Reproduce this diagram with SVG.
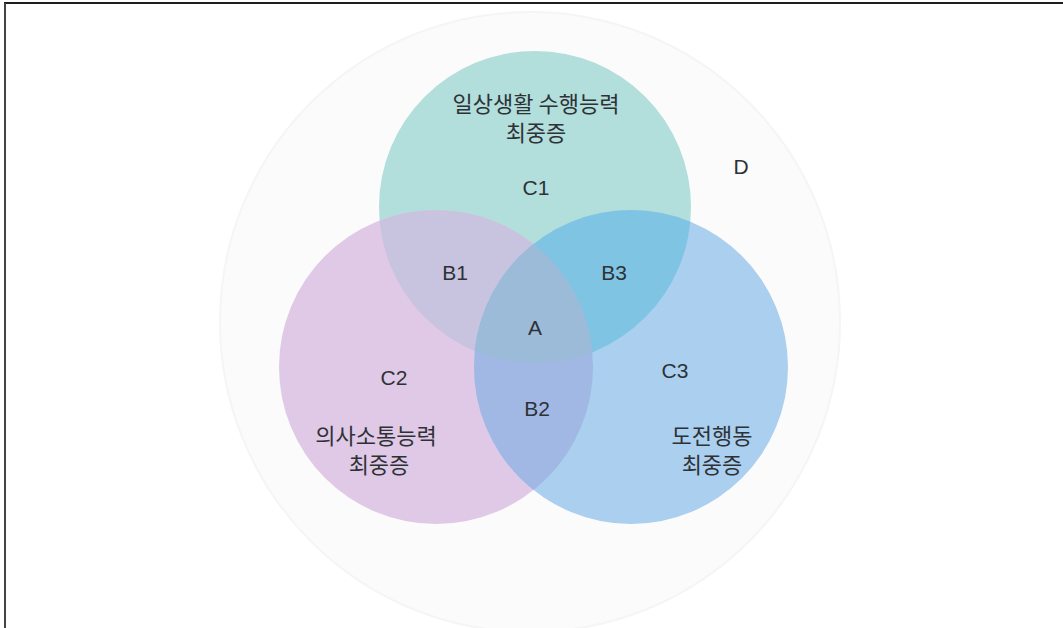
<svg xmlns="http://www.w3.org/2000/svg" width="1063" height="628" viewBox="0 0 1063 628">
  <style>
    .lbl { font-family: "Liberation Sans", "Noto Sans CJK KR", sans-serif; font-size: 21px; fill: #2e3236; text-anchor: middle; }
    .kr { font-family: "Noto Sans CJK KR", "Liberation Sans", sans-serif; font-size: 22px; fill: #2e3236; text-anchor: middle; }
  </style>
  <defs>
    <clipPath id="clipC1"><circle cx="535" cy="207" r="156"/></clipPath>
    <clipPath id="clipC2"><circle cx="436" cy="367" r="157"/></clipPath>
  </defs>
  <rect width="1063" height="628" fill="#ffffff"/>
  <line x1="4" y1="3" x2="1063" y2="3" stroke="#1e1e1e" stroke-width="2"/>
  <line x1="5" y1="3" x2="5" y2="628" stroke="#444444" stroke-width="2"/>

  <g id="D">
    <circle cx="530" cy="322" r="310" fill="#fbfbfb" stroke="#f5f5f5" stroke-width="2"/>
    <text class="lbl" x="741" y="174">D</text>
  </g>

  <g id="C1">
    <circle cx="535" cy="207" r="156" fill="#b2dedb"/>
  </g>
  <g id="C2">
    <circle cx="436" cy="367" r="157" fill="#e0c9e6"/>
  </g>
  <g id="C3">
    <circle cx="631" cy="367" r="157" fill="#abcfee"/>
  </g>
  <g id="B1">
    <circle cx="436" cy="367" r="157" fill="#c8c3df" clip-path="url(#clipC1)"/>
  </g>
  <g id="B3">
    <circle cx="631" cy="367" r="157" fill="#80c4e3" clip-path="url(#clipC1)"/>
  </g>
  <g id="B2">
    <circle cx="631" cy="367" r="157" fill="#a1b8e5" clip-path="url(#clipC2)"/>
  </g>
  <g id="A">
    <g clip-path="url(#clipC1)">
      <circle cx="631" cy="367" r="157" fill="#9cbbd9" clip-path="url(#clipC2)"/>
    </g>
  </g>

  <g id="labels">
    <text class="kr" x="536" y="112">일상생활 수행능력</text>
    <text class="kr" x="536" y="141">최중증</text>
    <text class="lbl" x="536" y="195">C1</text>
    <text class="lbl" x="455" y="280">B1</text>
    <text class="lbl" x="614" y="280">B3</text>
    <text class="lbl" x="535" y="335">A</text>
    <text class="lbl" x="394" y="385">C2</text>
    <text class="lbl" x="675" y="378">C3</text>
    <text class="lbl" x="537" y="416">B2</text>
    <text class="kr" x="376" y="444">의사소통능력</text>
    <text class="kr" x="379" y="473">최중증</text>
    <text class="kr" x="712" y="444">도전행동</text>
    <text class="kr" x="712" y="473">최중증</text>
  </g>
</svg>
